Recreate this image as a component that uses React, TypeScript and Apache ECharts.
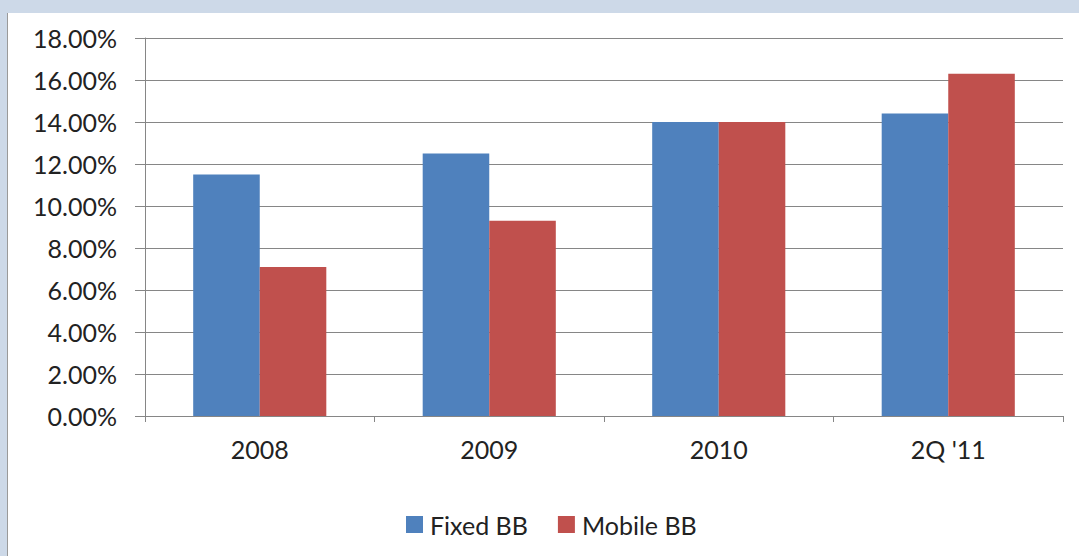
import React, { useEffect, useRef } from "react";
import * as echarts from "echarts";

const categories = ["2008", "2009", "2010", "2Q '11"];
const fixedBB = [11.5, 12.5, 14.0, 14.4];
const mobileBB = [7.1, 9.3, 14.0, 16.3];
const seriesNames = ["Fixed BB", "Mobile BB"];

const FONT = "Lato, 'Noto Sans', sans-serif";

export default function App() {
  const ref = useRef<HTMLDivElement>(null);
  useEffect(() => {
    if (!ref.current) return;
    const chart = echarts.init(ref.current, null, { renderer: "svg" });
    chart.setOption({
      animation: false,
      backgroundColor: "#ffffff",
      textStyle: { fontFamily: FONT },
      graphic: [
        { type: "rect", shape: { x: 0, y: 0, width: 1079, height: 13 }, style: { fill: "#cdd9e8" }, silent: true },
        { type: "rect", shape: { x: 0, y: 0, width: 7, height: 556 }, style: { fill: "#cdd9e8" }, silent: true },
        { type: "line", shape: { x1: 7.5, y1: 13, x2: 7.5, y2: 556 }, style: { stroke: "#9a9a9a", lineWidth: 1 }, silent: true },
      ],
      grid: { left: 145, right: 16, top: 38, bottom: 140, containLabel: false },
      legend: {
        data: seriesNames,
        left: 401,
        top: 507,
        itemWidth: 17,
        itemHeight: 17,
        itemGap: 30,
        icon: "rect",
        textStyle: { fontSize: 25, color: "#222", fontFamily: FONT, padding: [0, 0, 0, 2] },
      },
      xAxis: {
        type: "category",
        data: categories,
        axisLine: { lineStyle: { color: "#868686", width: 1 } },
        axisTick: { show: true, length: 6, lineStyle: { color: "#868686" } },
        axisLabel: { fontSize: 25, color: "#222", margin: 20, fontFamily: FONT },
      },
      yAxis: {
        type: "value",
        min: 0,
        max: 18,
        interval: 2,
        axisLine: { show: true, lineStyle: { color: "#868686", width: 1 } },
        axisTick: { show: true, length: 10, lineStyle: { color: "#868686" } },
        splitLine: { lineStyle: { color: "#868686", width: 1 } },
        axisLabel: {
          fontSize: 25,
          color: "#222",
          margin: 28,
          fontFamily: FONT,
          formatter: (v: number) => v.toFixed(2) + "%",
        },
      },
      series: [
        {
          name: seriesNames[0],
          type: "bar",
          data: fixedBB,
          itemStyle: { color: "#4f81bd" },
          barGap: "0%",
          barCategoryGap: "42%",
        },
        {
          name: seriesNames[1],
          type: "bar",
          data: mobileBB,
          itemStyle: { color: "#c0504d" },
          barGap: "0%",
          barCategoryGap: "42%",
        },
      ],
    });
    return () => chart.dispose();
  }, []);
  return (
    <div
      ref={ref}
      style={{ position: "fixed", left: 0, top: 0, width: 1079, height: 556 }}
    />
  );
}
